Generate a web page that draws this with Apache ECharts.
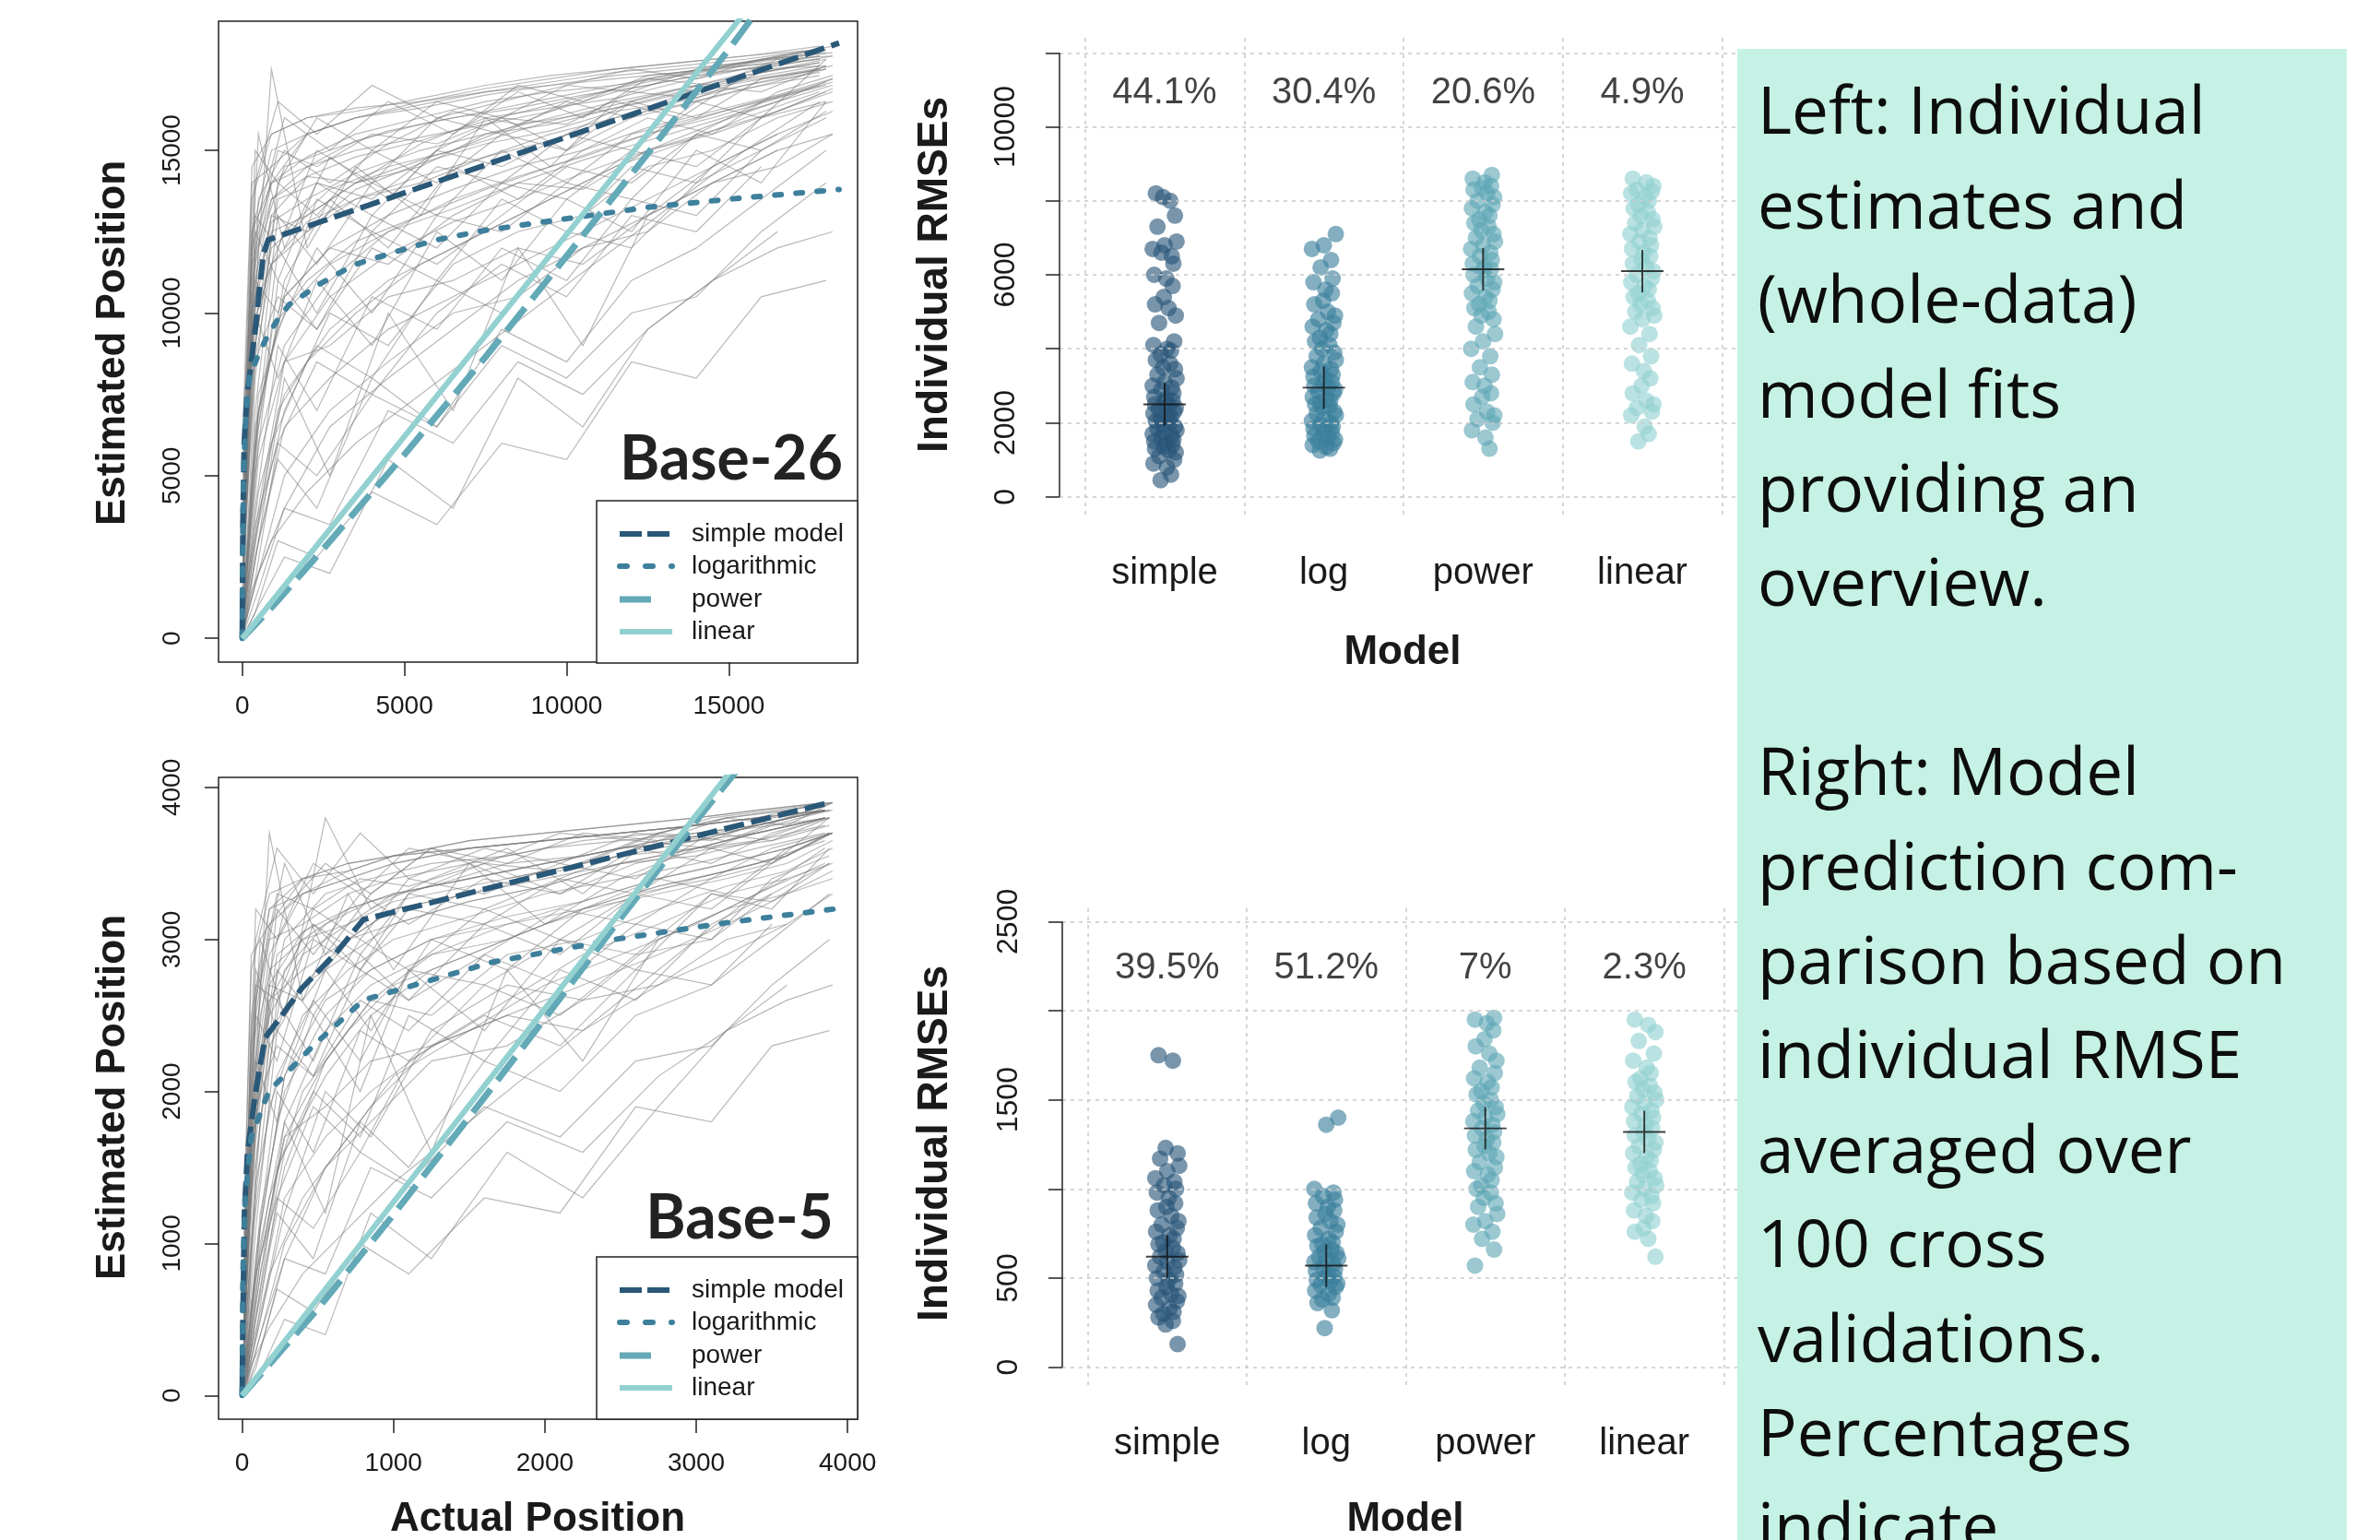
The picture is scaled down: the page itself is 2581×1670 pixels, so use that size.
<!DOCTYPE html>
<html>
<head>
<meta charset="utf-8">
<script src="https://cdn.jsdelivr.net/npm/echarts@6/dist/echarts.min.js"></script>
<style>
html,body{margin:0;padding:0;background:#fff;}
#chart{width:2581px;height:1670px;}
</style>
</head>
<body>
<div id="chart"></div>
<script>
// ---------------- DATA ----------------
const models = ['simple', 'log', 'power', 'linear'];
const legendNames = ['simple model', 'logarithmic', 'power', 'linear'];

// tick labels
const ticks26 = [0, 5000, 10000, 15000];
const ticks5 = [0, 1000, 2000, 3000, 4000];
const rmseTicks26 = [0, 2000, 4000, 6000, 8000, 10000, 12000];
const rmseLabels26 = [0, 2000, 6000, 10000];
const rmseTicks5 = [0, 500, 1000, 1500, 2000, 2500];
const rmseLabels5 = [0, 500, 1500, 2500];

// percentages of individuals best fit by each model
const pct26 = [44.1, 30.4, 20.6, 4.9];
const pct5 = [39.5, 51.2, 7, 2.3];

// medians of individual RMSEs (crosses)
const med26 = [2500, 2950, 6150, 6100];
const med5 = [620, 570, 1340, 1320];

// actual positions at which individuals were tested (three stimulus sets)
const xs26A = [20, 300, 900, 2000, 3500, 5500, 7500, 9500, 11500, 13500, 15500, 17800];
const xs26B = [60, 500, 1300, 2700, 4500, 6500, 8500, 10500, 12500, 14500, 16500, 18200];
const xs26C = [40, 400, 1100, 2300, 4000, 6000, 8000, 10000, 12000, 14000, 16000, 18000];
const xs5A = [10, 60, 180, 400, 700, 1000, 1500, 2000, 2500, 3000, 3400, 3850];
const xs5B = [25, 120, 280, 550, 850, 1250, 1750, 2250, 2750, 3200, 3600, 3900];
const xs5C = [15, 90, 230, 470, 780, 1100, 1600, 2100, 2600, 3100, 3500, 3880];

// individual estimates, Base-26 (rows alternate stimulus set A / B)
const est26 = [
[2000,9500,13000,14200,14800,15300,15900,16400,16900,17300,17700,18100],
[4000,12000,14500,15000,15600,16000,16300,16700,17000,17400,17600,17900],
[1500,8000,11500,12800,13500,14200,14800,15500,16000,16600,17000,17500],
[6000,13500,15000,14000,15200,16200,15800,16600,17200,17000,17800,18000],
[800,5000,9500,11000,12200,13000,13800,14500,15200,15800,16400,17000],
[3000,10500,12500,13800,14500,15000,15800,16100,16500,17000,17300,17600],
[500,2500,6000,8500,10000,11500,12500,13500,14500,15200,16000,16800],
[7000,15500,12000,14800,13500,15500,16800,16000,17200,17500,17900,18200],
[2500,11000,14000,15500,16000,16500,16900,17200,17500,17700,17900,18100],
[1200,7000,10500,12000,11500,13000,14000,13800,15000,15500,16200,16800],
[300,1500,3000,4500,6000,7500,9000,10500,12000,13500,15000,16500],
[5000,13000,16000,15000,16500,15500,17000,16500,17300,17500,17800,17900],
[1800,9000,12500,13000,14000,14500,15500,15800,16300,16800,17100,17500],
[200,3000,8000,5000,10000,7000,12000,9000,13000,14000,15000,15500],
[3500,12500,14000,14800,15500,16000,16500,16800,17000,17400,17700,18000],
[900,4500,7500,9500,11000,12000,13000,14000,15000,15800,16500,17200],
[2200,10000,13000,12500,13800,14600,15200,15600,16200,16500,17000,17400],
[400,2000,4000,6500,8000,9500,11000,12000,13000,14500,15500,null],
[6500,14500,15500,16000,16300,16500,16800,17000,17200,17400,17600,17800],
[1000,6500,11000,13500,12000,14500,13500,15000,16000,15500,16800,17300],
[2800,11500,13500,14200,14000,15200,16000,16300,16600,17100,17500,17800],
[600,3500,7000,10000,9000,11500,12500,13000,14500,15000,16000,16500],
[1500,8500,12000,13000,14000,14700,15300,15900,16400,16900,17200,17600],
[100,1000,2500,2000,5500,4000,8000,6500,9500,11000,12500,null],
[4500,13500,15500,16000,16200,16600,17000,17300,17500,17700,17900,18200],
[1300,7500,10000,11500,12500,13500,14200,14800,15500,16000,16600,17100],
[3200,9000,17500,12000,14500,13000,16000,14500,16500,16000,17300,17700],
[700,4000,8500,10500,11800,12800,13500,14300,15000,15600,16200,16900],
[2000,10500,13500,14500,15000,15400,15800,16200,16800,17200,17500,17900],
[300,2000,5000,7000,8500,10000,10500,12000,12500,14000,14500,15500],
[5500,14000,14500,15500,16000,16300,16700,17000,17300,17500,17700,18000],
[1100,6000,9000,11000,12500,13200,14000,14700,15300,15900,16500,17000],
[2600,10000,12800,13500,14300,15000,15500,16000,16500,16900,17300,17700],
[500,3000,6500,8000,9500,10500,11500,12500,13500,14500,15500,16200],
[3800,12000,14000,14500,15300,15800,16200,16600,17000,17300,17600,17900],
[800,5500,8500,9000,10500,11000,12000,11500,13000,14000,15000,null],
[1700,9500,11500,12500,13500,14000,14800,15300,16000,16400,16900,17300],
[200,1500,4000,3500,7000,6000,8500,7500,9500,11000,12000,12500],
[4200,12500,15000,15500,16000,16400,16800,17100,17400,17600,17800,18100],
[900,7000,10500,12000,13000,13800,14500,15000,15700,16200,16700,17200]
];
// further Base-26 individuals (stimulus set C)
const est26C = [
[1000,8000,14000,13000,15000,14000,15500,15000,16000,16500,17000,17500],
[3000,11000,10000,13500,12500,14500,14000,15500,15000,16500,16000,17800],
[500,4000,9000,7000,10500,9500,12000,11000,13500,13000,15000,16000],
[2000,13000,12000,15000,14000,16000,15500,16500,16000,17000,17500,17600],
[200,2500,5500,4000,8000,6500,9500,8500,11000,12000,13500,15000],
[4000,14000,16500,15500,17000,16000,16500,17000,17500,17200,17800,18000],
[800,6000,12000,10000,13000,12000,14000,13500,15000,14500,16000,16800],
[1500,10000,8000,11000,9000,12500,11000,13500,12500,15000,14000,16500],
[300,3000,7000,9000,8000,11000,10000,12500,12000,14000,15000,null],
[2500,9000,13500,14000,13000,15000,14500,15500,16500,16000,17200,17500],
[600,5000,11000,9500,12500,11500,13000,14500,14000,15500,16500,17000],
[100,800,3000,2500,4500,3500,6000,5500,8500,8000,10500,11000],
[1800,12000,15000,14500,15500,15200,16000,15800,16800,16600,17400,17800],
[700,3500,6000,8500,7500,10000,11500,10500,13000,12500,14500,null],
[3500,12500,11000,14000,13500,15000,16000,15000,16500,17000,16800,17600],
[400,6500,9500,12000,10000,13000,12500,14000,13500,15500,15000,16200],
[2200,8500,10500,9500,12000,11000,13500,12500,14500,14000,16000,16500],
[900,7000,13000,11500,14000,13000,15000,14000,15500,16000,16500,17100],
[150,1800,6000,5000,7500,6500,9000,8000,10000,10500,12500,14000],
[5000,15000,14000,16000,15000,16500,16000,17000,16800,17500,17800,18100]
];

// individual estimates, Base-5
const est5 = [
[300,1500,2600,3000,3200,3300,3400,3500,3600,3700,3750,3850],
[800,2200,3000,3300,3400,3500,3550,3650,3700,3800,3850,3900],
[200,1000,1900,2500,2800,3000,3150,3300,3400,3500,3600,3700],
[1200,2700,3500,2900,3300,3600,3400,3500,3700,3650,3800,3900],
[100,600,1300,2000,2400,2700,2900,3100,3250,3400,3500,3650],
[500,1800,2800,3100,3250,3350,3500,3550,3650,3700,3800,3850],
[50,300,800,1300,1700,2100,2400,2700,2900,3100,3300,3500],
[1500,3000,2500,3800,3200,3400,3600,3300,3700,3800,3750,3900],
[400,2000,2900,3300,3450,3550,3650,3700,3750,3800,3850,3900],
[150,900,1700,2200,2600,2500,2900,3000,3200,3350,3450,3600],
[30,200,450,800,1100,1400,1800,2200,2600,3000,3300,3600],
[900,2500,3200,3500,3300,3600,3500,3700,3650,3800,3850,3900],
[250,1300,2300,2700,3000,3100,3250,3350,3500,3600,3700,3800],
[80,700,1800,1200,2500,1600,2800,2200,3000,3200,3300,3400],
[600,2300,3100,3300,3400,3500,3600,3650,3700,3750,3800,3850],
[120,800,1600,2100,2500,2800,3000,3200,3350,3450,3550,3700],
[350,1700,2700,2600,3000,3200,3300,3450,3550,3600,3700,3800],
[60,400,900,1500,1900,2300,2600,2900,3100,3300,3400,null],
[1000,2800,3300,3400,3500,3550,3600,3650,3700,3750,3800,3850],
[180,1100,2100,2800,2400,3000,2800,3200,3400,3300,3600,3700],
[450,1900,2800,3000,3100,3300,3400,3500,3600,3650,3750,3850],
[90,500,1200,2000,1700,2400,2700,2600,3000,3200,3400,3500],
[300,1400,2500,2900,3100,3250,3350,3450,3550,3650,3700,3800],
[20,150,500,400,1200,900,1600,1300,1900,2400,2700,null],
[700,2400,3200,3400,3450,3550,3650,3700,3750,3800,3850,3900],
[200,1200,2000,2500,2800,3000,3150,3250,3400,3500,3600,3700],
[500,1600,3700,2600,3300,2800,3500,3100,3400,3600,3650,3800],
[100,700,1500,2200,2600,2900,3000,3200,3300,3400,3500,3650],
[350,1800,2700,3050,3200,3300,3400,3500,3600,3650,3750,3850],
[50,400,1000,1500,1800,2200,2300,2600,2700,3000,3100,3300],
[1100,2900,3100,3400,3500,3550,3600,3650,3700,3750,3800,3850],
[160,1000,1800,2400,2700,2900,3100,3200,3350,3450,3550,3700],
[400,1700,2600,2800,3000,3200,3300,3400,3500,3600,3700,3800],
[70,500,1300,1700,2000,2300,2500,2700,2900,3100,3300,3450],
[650,2200,3000,3100,3300,3400,3500,3600,3650,3700,3750,3850],
[130,900,1700,1900,2200,2300,2500,2400,2700,2900,3100,null],
[280,1600,2400,2700,2900,3100,3250,3350,3500,3550,3650,3750],
[40,300,900,800,1500,1300,1800,1600,2100,2400,2600,2700],
[750,2500,3200,3300,3400,3500,3600,3650,3700,3750,3800,3900],
[150,1100,2100,2600,2800,3000,3100,3250,3400,3500,3600,3700]
];
// further Base-5 individuals (stimulus set C)
const est5C = [
[200,1800,3200,2900,3300,3100,3400,3300,3500,3600,3650,3750],
[600,2500,2200,3000,2800,3200,3100,3400,3300,3600,3500,3800],
[100,900,2000,1600,2400,2200,2700,2500,2900,3000,3300,3500],
[400,2700,2600,3200,3000,3400,3300,3500,3400,3700,3750,3800],
[50,500,1200,900,1800,1500,2200,2000,2500,2700,3000,3300],
[800,3000,3600,3300,3700,3400,3600,3500,3700,3650,3800,3850],
[150,1300,2600,2200,2900,2600,3100,2900,3300,3200,3500,3700],
[300,2200,1800,2500,2000,2800,2400,3000,2800,3300,3200,3600],
[60,600,1500,2000,1700,2500,2200,2800,2600,3100,3300,null],
[500,1900,2900,3100,2800,3300,3200,3400,3600,3500,3700,3800],
[120,1100,2400,2100,2800,2600,2900,3200,3100,3400,3600,3700],
[20,180,700,550,1000,800,1300,1200,1900,1800,2300,2400],
[350,2600,3300,3200,3400,3350,3500,3450,3650,3600,3750,3850],
[140,800,1300,1900,1600,2200,2500,2300,2800,2700,3100,null],
[700,2800,2400,3100,2900,3300,3500,3300,3600,3700,3650,3800],
[90,1400,2100,2600,2200,2800,2700,3000,2900,3300,3250,3500],
[450,1900,2300,2100,2600,2400,2900,2700,3100,3000,3400,3550],
[180,1500,2800,2500,3000,2800,3200,3000,3300,3400,3500,3700],
[30,400,1300,1100,1600,1400,1900,1700,2200,2300,2700,3000],
[1000,3200,3000,3500,3300,3600,3500,3700,3650,3800,3850,3900]
];

// whole-data model fits (actual, estimated)
const fitSimple26 = [[0,0],[20,3500],[60,6000],[150,7500],[280,8500],[450,9900],[560,11000],[650,11800],[800,12250],[18400,18300]];
const fitLog26 = [[0,0],[10,2500],[40,5000],[120,7000],[230,8050],[512,8760],[800,9330],[1080,9780],[1450,10260],[2420,10910],[3440,11480],[4780,11900],[6000,12250],[7420,12530],[10000,12900],[12500,13250],[15000,13500],[18400,13800]];
const fitPower26 = [[0,0],[1000,1050],[2500,2750],[5000,5650],[7500,8650],[10000,11750],[12500,14900],[15000,18100],[16000,19450]];
const fitLinear26 = [[0,0],[16000,19860]];

const fitSimple5 = [[0,0],[5,500],[15,1200],[35,1600],[85,1970],[150,2350],[395,2680],[620,2910],[800,3130],[3880,3900]];
const fitLog5 = [[0,0],[5,800],[20,1300],[60,1700],[176,2000],[468,2300],[800,2600],[1650,2850],[2460,3000],[3200,3110],[3910,3200]];
const fitPower5 = [[0,0],[500,570],[1000,1190],[1500,1830],[2000,2480],[2500,3140],[3000,3780],[3300,4150]];
const fitLinear5 = [[0,0],[3400,4328]];

// individual RMSEs per model, Base-26
const rmse26Simple = [8200,8000,8100,7600,7300,6900,6800,6700,6500,6600,6300,6000,5900,5700,5400,5200,5100,4900,4700,4200,4100,4000,3950,3850,3700,3600,3500,3450,3300,3200,3100,3000,2950,2900,2800,2700,2650,2600,2550,2500,2450,2400,2350,2300,2250,2200,2150,2100,2050,2000,1950,1900,1850,1800,1750,1700,1650,1600,1550,1500,1450,1400,1350,1300,1250,1200,1100,1000,900,800,600,450];
const rmse26Log = [7100,6800,6700,6400,6200,5900,5800,5600,5500,5300,5200,5000,4900,4800,4700,4600,4500,4400,4300,4200,4100,4000,3900,3800,3700,3600,3500,3450,3400,3300,3250,3200,3100,3050,3000,2950,2900,2850,2800,2700,2650,2600,2550,2500,2450,2400,2300,2250,2200,2100,2050,2000,1950,1900,1850,1800,1750,1700,1650,1600,1550,1500,1450,1400,1350,1300,1250];
const rmse26Power = [8700,8600,8500,8400,8350,8300,8200,8100,8000,7900,7800,7700,7600,7500,7400,7300,7200,7100,7000,6900,6800,6700,6600,6500,6400,6300,6200,6150,6100,6000,5900,5800,5700,5600,5500,5400,5300,5200,5100,5000,4900,4800,4600,4400,4200,4000,3800,3500,3300,3100,3000,2800,2700,2500,2300,2200,2100,2000,1800,1600,1300];
const rmse26Linear = [8600,8500,8400,8300,8250,8200,8100,8000,7900,7800,7700,7600,7500,7400,7300,7200,7100,7000,6900,6800,6700,6600,6500,6400,6300,6200,6100,6000,5900,5800,5700,5600,5500,5400,5300,5200,5100,5000,4900,4800,4600,4400,4100,3800,3600,3400,3200,3000,2800,2600,2500,2400,2300,2200,1900,1700,1500];

// individual RMSEs per model, Base-5
const rmse5Simple = [1750,1720,1230,1200,1170,1130,1100,1060,1040,1020,1000,980,950,920,900,880,850,820,800,780,760,740,720,700,690,670,650,640,620,600,590,570,560,540,520,500,490,470,450,430,410,400,390,370,350,330,310,300,280,260,240,130];
const rmse5Log = [1400,1360,1000,980,960,940,920,900,880,860,840,820,800,780,760,740,720,700,690,680,660,650,640,620,610,600,590,580,560,550,540,520,510,500,490,480,470,460,450,430,410,390,380,360,320,220];
const rmse5Power = [1960,1950,1930,1890,1840,1800,1760,1720,1680,1650,1620,1600,1570,1550,1530,1500,1480,1460,1440,1420,1400,1380,1360,1340,1320,1300,1280,1260,1240,1220,1200,1180,1150,1120,1100,1080,1050,1020,1000,980,950,920,900,860,820,800,760,720,660,570];
const rmse5Linear = [1950,1920,1880,1830,1760,1720,1680,1650,1620,1600,1580,1560,1540,1520,1500,1480,1460,1440,1420,1400,1380,1360,1340,1320,1300,1280,1260,1240,1220,1200,1180,1160,1140,1120,1100,1080,1060,1040,1020,1000,980,960,940,920,880,850,820,780,760,720,620];

const panelLines = [
  'Left: Individual', 'estimates and', '(whole-data)', 'model fits', 'providing an', 'overview.', '',
  'Right: Model', 'prediction com-', 'parison based on', 'individual RMSE', 'averaged over', '100 cross',
  'validations.', 'Percentages', 'indicate'
];

// ---------------- STYLE / LAYOUT ----------------
const colors = ['#2a5878', '#3e809c', '#63a9b7', '#93d1d1'];
const dotColors = ['rgba(40,85,120,0.78)', 'rgba(58,126,155,0.78)', 'rgba(95,167,182,0.78)', 'rgba(146,208,208,0.78)'];
const lineStyles = [
  {type: [22, 8], width: 6},
  {type: [7, 16], width: 6},
  {type: [32, 12], width: 7},
  {type: 'solid', width: 6}
];
// horizontal jitter of dots around each category (layout only)
const jitter = [-0.055, 0.035, -0.01, 0.065, -0.045, 0.075, 0.0, -0.075, 0.045, -0.02, 0.055, -0.065, 0.01, 0.05, -0.005, -0.06, 0.025, 0.07, -0.035, 0.06, -0.07, 0.015, 0.04, -0.025];

const AXF = 'Liberation Sans, Arial, sans-serif';
const TXT = '#1a1a1a';

function grid(left, top, width, height, box) {
  return {left, top, width, height, containLabel: false, show: !!box,
    borderColor: '#222', borderWidth: 1.5, backgroundColor: 'transparent'};
}

function valueAxis(gi, min, max, ticks, labels, isY, fs, margin) {
  return {
    type: 'value', gridIndex: gi, min, max, scale: false,
    position: isY ? 'left' : 'bottom',
    axisLine: {show: false, onZero: false},
    axisTick: {show: true, inside: false, length: 15, customValues: ticks, lineStyle: {color: '#222', width: 1.5}},
    axisLabel: {show: true, customValues: labels, formatter: v => String(v), rotate: isY ? 90 : 0,
      fontFamily: AXF, fontSize: fs, color: TXT, margin, showMinLabel: true, showMaxLabel: true, hideOverlap: false},
    splitLine: {show: false}
  };
}

function catAxis(gi) {
  return {
    type: 'value', gridIndex: gi, min: 0.34, max: 4.66, position: 'bottom',
    axisLine: {show: false, onZero: false}, axisTick: {show: false}, splitLine: {show: false},
    axisLabel: {customValues: [1, 2, 3, 4], formatter: v => models[Math.round(v) - 1], fontFamily: AXF, fontSize: 40, color: TXT, margin: 44, showMinLabel: true, showMaxLabel: true, hideOverlap: false}
  };
}

function greyLines(sets, xi) {
  const data = [];
  sets.forEach(set => {
    set.rows.forEach((row, r) => {
      const xs = set.xs[r % set.xs.length];
      const coords = [];
      row.forEach((v, i) => { if (v !== null) coords.push([xs[i], v]); });
      data.push({coords});
    });
  });
  return {
    type: 'lines', coordinateSystem: 'cartesian2d', polyline: true,
    xAxisIndex: xi, yAxisIndex: xi, silent: true, z: 1,
    lineStyle: {color: 'rgba(120,120,120,0.52)', width: 1.2, opacity: 1},
    data
  };
}

function fitSeries(fits, xi) {
  return [0, 1, 2, 3].map(k => ({
    type: 'line', name: legendNames[k], xAxisIndex: xi, yAxisIndex: xi,
    data: fits[k], showSymbol: false, symbol: 'none', clip: true, smooth: false, z: 3 + k,
    lineStyle: {color: colors[k], width: lineStyles[k].width, type: lineStyles[k].type, cap: k === 1 ? 'round' : 'butt', join: 'round'},
    silent: true
  }));
}

function rmseSeries(groups, meds, pcts, xi, ticks, yAxisTop, pctY) {
  const s = [];
  s.push({
    type: 'line', xAxisIndex: xi, yAxisIndex: xi, data: [], silent: true, z: 1,
    markLine: {
      silent: true, symbol: ['none', 'none'], label: {show: false}, animation: false,
      lineStyle: {color: '#c9c9c9', type: [4, 5], width: 1.5},
      data: [0.5, 1.5, 2.5, 3.5, 4.5].map(v => ({xAxis: v})).concat(ticks.map(v => ({yAxis: v})))
    }
  });
  s.push({
    type: 'line', xAxisIndex: xi, yAxisIndex: xi, data: [], silent: true, z: 2,
    markLine: {
      silent: true, symbol: ['none', 'none'], label: {show: false}, animation: false,
      lineStyle: {color: '#222', type: 'solid', width: 1.5},
      data: [[{coord: [0.34, 0]}, {coord: [0.34, yAxisTop]}]]
    }
  });
  groups.forEach((vals, k) => {
    s.push({
      type: 'scatter', name: models[k], xAxisIndex: xi, yAxisIndex: xi, z: 3,
      symbol: 'circle', symbolSize: 18, silent: true,
      itemStyle: {color: dotColors[k], borderWidth: 0},
      data: vals.map((v, i) => [k + 1 + jitter[(i + k * 5) % jitter.length], v])
    });
  });
  s.push({
    type: 'scatter', xAxisIndex: xi, yAxisIndex: xi, z: 5, silent: true,
    symbol: 'path://M-1,-24L1,-24L1,24L-1,24Z M-24,-1L24,-1L24,1L-24,1Z', symbolSize: 46,
    itemStyle: {color: '#111'},
    data: meds.map((m, k) => [k + 1, m])
  });
  s.push({
    type: 'scatter', xAxisIndex: xi, yAxisIndex: xi, z: 5, silent: true,
    symbolSize: 1, itemStyle: {color: 'rgba(0,0,0,0)'},
    label: {show: true, position: 'inside', formatter: p => p.value[2] + '%', fontFamily: AXF, fontSize: 40, color: '#111'},
    data: pcts.map((p, k) => [k + 1, pctY, p])
  });
  return s;
}

function legendGroup(x, y) {
  const rowsY = [36, 71, 107, 142];
  const dashes = [[24, 6], [8, 20], [34, 30], null];
  const children = [{type: 'rect', shape: {x: 0, y: 0, width: 283, height: 176}, style: {fill: '#fff', stroke: '#222', lineWidth: 1.5}}];
  legendNames.forEach((n, k) => {
    children.push({type: 'line', shape: {x1: 25, y1: rowsY[k], x2: 82, y2: rowsY[k]},
      style: {stroke: colors[k], lineWidth: lineStyles[k].width, lineDash: dashes[k], lineCap: k === 1 ? 'round' : 'butt'}});
    children.push({type: 'text', x: 103, y: rowsY[k], style: {text: n, font: '28px ' + AXF, fill: TXT, verticalAlign: 'middle', textVerticalAlign: 'middle'}});
  });
  return {type: 'group', x, y, z: 50, children, silent: true};
}

function rotText(text, x, y, size) {
  return {type: 'text', x, y, rotation: Math.PI / 2, z: 60, silent: true,
    style: {text, font: 'bold ' + size + 'px ' + AXF, fill: TXT, align: 'center', verticalAlign: 'middle', textAlign: 'center', textVerticalAlign: 'middle'}};
}
function hText(text, x, y, font, color) {
  return {type: 'text', x, y, z: 60, silent: true,
    style: {text, font, fill: color || TXT, align: 'center', verticalAlign: 'middle', textAlign: 'center', textVerticalAlign: 'middle'}};
}

const chart = echarts.init(document.getElementById('chart'), null, {renderer: 'canvas', width: 2581, height: 1670});

const option = {
  animation: false,
  backgroundColor: '#ffffff',
  grid: [
    grid(237, 23, 693, 695, true),
    grid(1149, 38, 746, 520, false),
    grid(237, 843, 693, 696, true),
    grid(1152, 980, 745, 522, false)
  ],
  xAxis: [
    valueAxis(0, -730, 18970, ticks26, ticks26, false, 28, 34),
    catAxis(1),
    valueAxis(2, -156, 4066, ticks5, ticks5, false, 28, 34),
    catAxis(3)
  ],
  yAxis: [
    valueAxis(0, -730, 18970, ticks26, ticks26, true, 28, 36),
    valueAxis(1, -480, 12480, rmseTicks26, rmseLabels26, true, 32, 42),
    valueAxis(2, -156, 4066, ticks5, ticks5, true, 28, 36),
    valueAxis(3, -100, 2600, rmseTicks5, rmseLabels5, true, 32, 42)
  ],
  series: [].concat(
    [greyLines([{xs: [xs26A, xs26B], rows: est26}, {xs: [xs26C], rows: est26C}], 0)],
    fitSeries([fitSimple26, fitLog26, fitPower26, fitLinear26], 0),
    [greyLines([{xs: [xs5A, xs5B], rows: est5}, {xs: [xs5C], rows: est5C}], 2)],
    fitSeries([fitSimple5, fitLog5, fitPower5, fitLinear5], 2),
    rmseSeries([rmse26Simple, rmse26Log, rmse26Power, rmse26Linear], med26, pct26, 1, rmseTicks26, 12000, 10900),
    rmseSeries([rmse5Simple, rmse5Log, rmse5Power, rmse5Linear], med5, pct5, 3, rmseTicks5, 2500, 2240)
  ),
  graphic: [
    legendGroup(647, 543),
    legendGroup(647, 1363),
    hText('Base-26', 793, 499, 'bold 66px Lato, sans-serif', '#222'),
    hText('Base-5', 802, 1322, 'bold 66px Lato, sans-serif', '#222'),
    rotText('Estimated Position', 123, 372, 44),
    rotText('Estimated Position', 123, 1190, 44),
    rotText('Individual RMSEs', 1014, 298, 46),
    rotText('Individual RMSEs', 1014, 1240, 46),
    hText('Model', 1521, 708, 'bold 44px ' + AXF),
    hText('Model', 1524, 1648, 'bold 44px ' + AXF),
    hText('Actual Position', 583, 1648, 'bold 44px ' + AXF),
    {type: 'rect', z: 70, silent: true, shape: {x: 1884, y: 53, width: 661, height: 1700}, style: {fill: '#c6f2e5'}},
    {type: 'text', z: 71, silent: true, x: 1906, y: 74,
      style: {text: panelLines.join('\n'), font: '71px "Open Sans", sans-serif', fill: '#0d0d0d', lineHeight: 102.4, verticalAlign: 'top', textVerticalAlign: 'top', align: 'left'}}
  ]
};
chart.setOption(option);
</script>
</body>
</html>
